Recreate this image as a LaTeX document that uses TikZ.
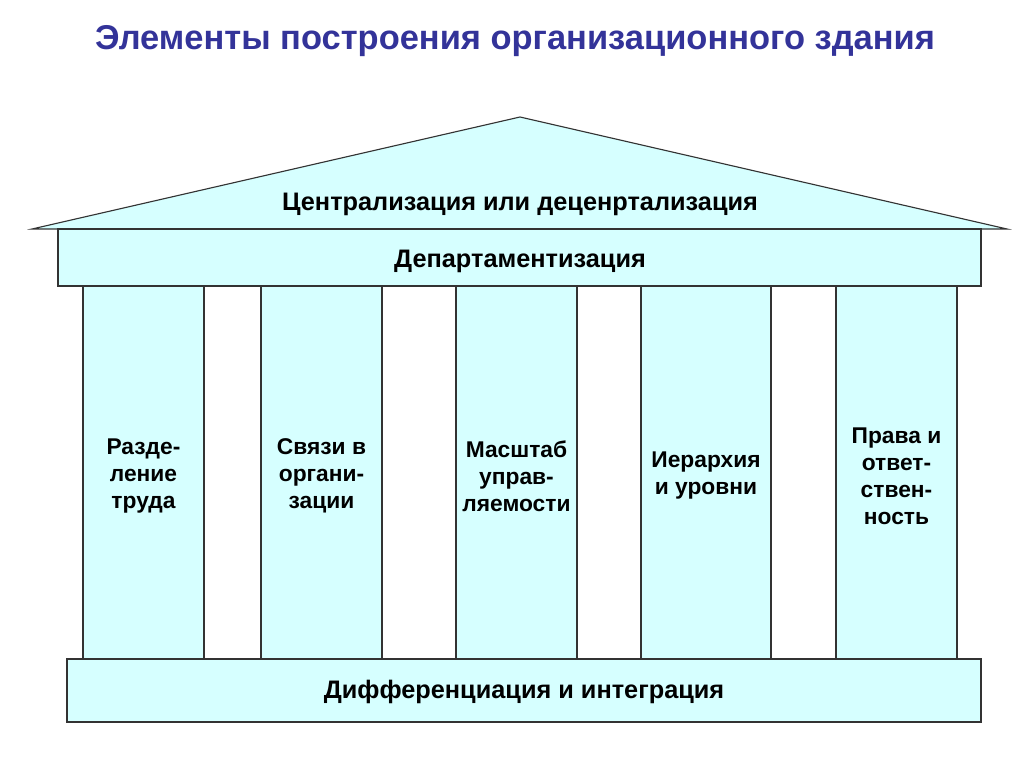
\documentclass[tikz,border=0pt]{standalone}
\usepackage{fontspec}
\setmainfont{Liberation Sans}
\definecolor{pale}{RGB}{214,255,255}
\definecolor{titleblue}{RGB}{51,51,153}
\begin{document}
\begin{tikzpicture}[x=0.025cm, y=-0.025cm,
    slab/.style={draw=black!80, fill=pale, line width=0.8pt},
    sign/.style={font=\bfseries\fontsize{18}{19}\selectfont, align=center, inner sep=0pt},
    pillartext/.style={sign, font=\bfseries\fontsize{16.2}{19.2}\selectfont}]
  \useasboundingbox (0,0) rectangle (1024,767);

  % Title
  \node[font=\bfseries\fontsize{24.5}{30}\selectfont, text=titleblue] (title) at (515,41) {Элементы построения организационного здания};

  % Roof
  \draw[slab] (32,229) -- (520,117) -- (1007,229) -- cycle;
  \node[sign] (roof) at (520,204) {Централизация или деценртализация};

  % Beam under the roof
  \draw[slab] (58,229) rectangle (981,286);
  \node[sign] (beam) at (520,261) {Департаментизация};

  % Columns
  \foreach \l/\r/\t [count=\i] in {83/204/{Разде-\\ление\\труда},
      261/382/{Связи в\\органи-\\зации},
      456/577/{Масштаб\\управ-\\ляемости},
      641/771/{Иерархия\\и уровни},
      836/957/{Права и\\ответ-\\ствен-\\ность}} {
    \draw[slab] (\l,286) rectangle (\r,659);
    \node[pillartext] (col\i) at ({(\l+\r)/2},476) {\t};
  }

  % Base
  \draw[slab] (67,659) rectangle (981,722);
  \node[sign] (base) at (524,692) {Дифференциация и интеграция};

\end{tikzpicture}
\end{document}
